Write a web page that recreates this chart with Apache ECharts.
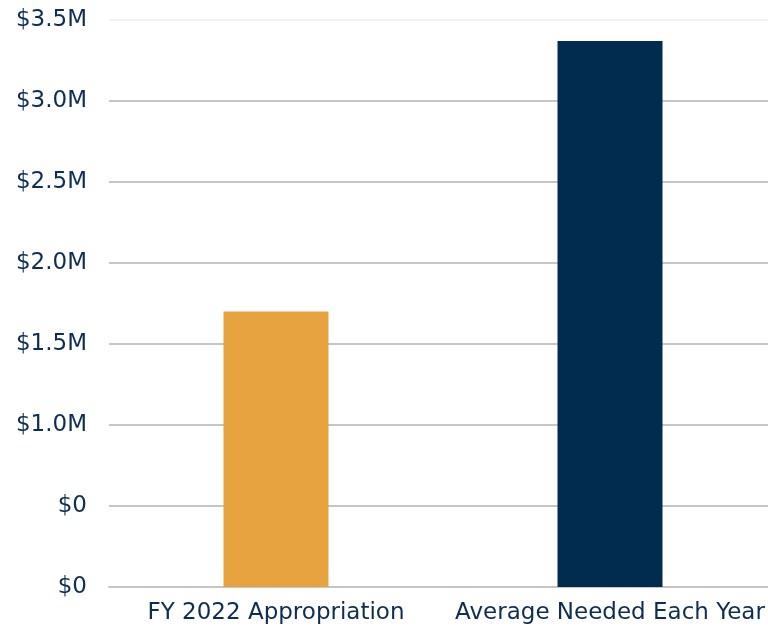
<!DOCTYPE html>
<html><head><meta charset="utf-8">
<script src="https://cdn.jsdelivr.net/npm/echarts@6/dist/echarts.min.js"></script>
<style>html,body{margin:0;padding:0;background:#fff;overflow:hidden;width:768px;height:631px}#c{width:777px;height:631px}</style>
</head><body><div id="c"></div>
<script>
const categories = ["FY 2022 Appropriation", "Average Needed Each Year"];
const values = [1.70, 3.37];
const barColors = ["#E6A33F", "#022B50"];
const tickLabels = ["$0", "$0", "$1.0M", "$1.5M", "$2.0M", "$2.5M", "$3.0M", "$3.5M"];

const chart = echarts.init(document.getElementById('c'));
const textColor = "#0E2D52";
const fontFam = "'DejaVu Sans', sans-serif";
chart.setOption({
  animation: false,
  grid: {left: 109, right: 0, top: 20, bottom: 44},
  xAxis: {
    type: 'category', data: categories,
    axisLine: {lineStyle: {color: '#c6c6c6', width: 2}},
    axisTick: {show: false},
    axisLabel: {color: textColor, fontSize: 23, fontFamily: fontFam, margin: 15, interval: 0}
  },
  yAxis: {
    type: 'value', min: 0, max: 3.5, interval: 0.5,
    axisLine: {show: false}, axisTick: {show: false},
    splitLine: {lineStyle: {color: ['#c6c6c6','#c6c6c6','#c6c6c6','#c6c6c6','#c6c6c6','#c6c6c6','#c6c6c6','#f3f3f3'], width: 2}},
    axisLabel: {
      color: textColor, fontSize: 23, fontFamily: fontFam, margin: 22,
      formatter: (v) => tickLabels[Math.round(v / 0.5)]
    }
  },
  series: [{
    type: 'bar', barWidth: 105,
    data: values.map((v, i) => ({value: v, itemStyle: {color: barColors[i]}}))
  }]
});
</script></body></html>
